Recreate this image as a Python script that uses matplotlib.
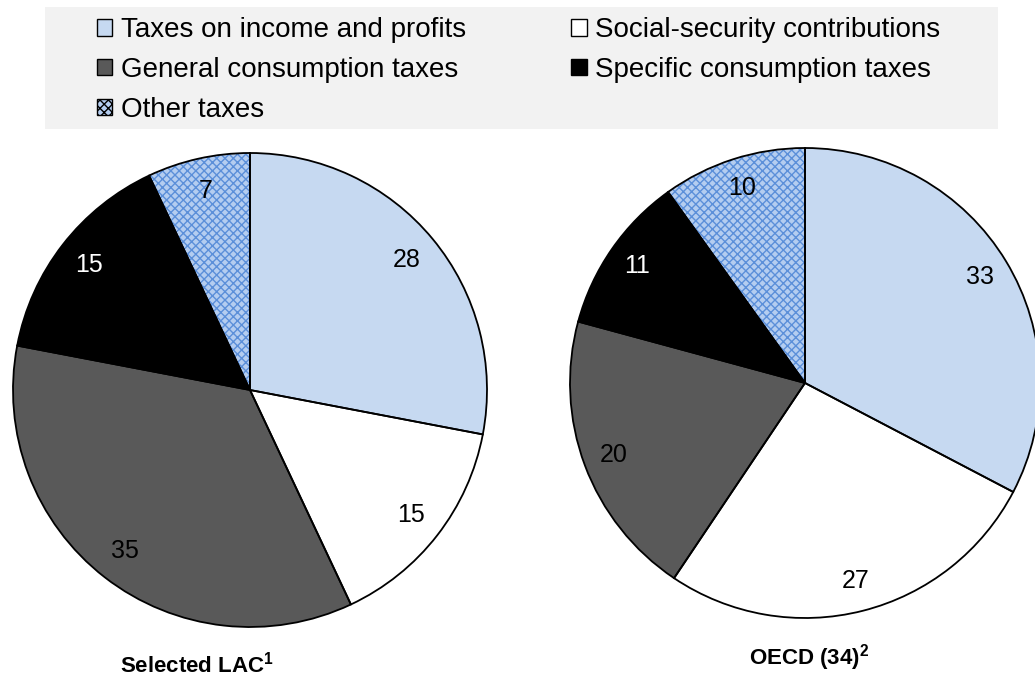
import matplotlib
matplotlib.use("Agg")
import matplotlib.pyplot as plt
from matplotlib.patches import Patch, Rectangle

plt.rcParams['font.family'] = ['Liberation Sans', 'DejaVu Sans']
plt.rcParams['mathtext.fontset'] = 'custom'
plt.rcParams['mathtext.rm'] = 'Liberation Sans'
plt.rcParams['mathtext.bf'] = 'Liberation Sans:bold'
plt.rcParams['hatch.linewidth'] = 1.0

# Datos
categorias = ["Taxes on income and profits", "Social-security contributions",
              "General consumption taxes", "Specific consumption taxes", "Other taxes"]
lac = [28, 15, 35, 15, 7]
oecd = [33, 27, 20, 11, 10]
titulos = [r"Selected LAC$^{\mathbf{1}}$", r"OECD (34)$^{\mathbf{2}}$"]

colores = ["#c6d9f1", "#ffffff", "#595959", "#000000", "#b4cdf0"]
color_texto = ["black", "black", "black", "white", "black"]
hatch_color = "#5b8fd9"

W, H = 1035, 682
fig = plt.figure(figsize=(W / 100, H / 100), dpi=100)

# fondo de la leyenda
fig.patches.append(Rectangle((45 / W, 1 - 129 / H), 953 / W, 122 / H,
                             transform=fig.transFigure, facecolor="#f2f2f2",
                             edgecolor="none", zorder=0))


def dibujar_pie(ax, valores, pct_dist):
    # relleno
    wedges, textos = ax.pie(valores, colors=colores, startangle=90, counterclock=False,
                            labels=[str(v) for v in valores], labeldistance=pct_dist,
                            wedgeprops=dict(linewidth=0),
                            textprops=dict(fontsize=18, ha="center", va="center"))
    for t, c in zip(textos, color_texto):
        t.set_color(c)
    wedges[-1].set_hatch("xxxx")
    wedges[-1].set_edgecolor(hatch_color)
    # bordes
    bordes, _ = ax.pie(valores, startangle=90, counterclock=False,
                       wedgeprops=dict(fill=False, edgecolor="black", linewidth=1.3))
    for t in textos:
        t.set_zorder(5)
    ax.set_xlim(-1, 1)
    ax.set_ylim(-1, 1)
    ax.set_aspect("equal")
    for p in wedges + bordes:
        p.set_clip_on(False)


ax1 = fig.add_axes([13 / W, 1 - 627 / H, 474 / W, 474 / H])
dibujar_pie(ax1, lac, 0.86)
ax2 = fig.add_axes([570 / W, 1 - 618 / H, 470 / W, 470 / H])
dibujar_pie(ax2, oecd, 0.87)

fig.text(197 / W, 1 - 665 / H, titulos[0], fontsize=16, fontweight="bold",
         ha="center", va="center")
fig.text(809 / W, 1 - 658 / H, titulos[1], fontsize=16, fontweight="bold",
         ha="center", va="center")

# leyenda (orden por filas como en el original)
handles = []
for c, h in zip(colores, [None, None, None, None, "xxxx"]):
    handles.append(Patch(facecolor=c, edgecolor="black", linewidth=1.0, hatch=h))
orden = [0, 2, 4, 1, 3]
leg = fig.legend([handles[i] for i in orden], [categorias[i] for i in orden],
                 ncol=2, loc="upper left", bbox_to_anchor=(97 / W, 1 - 17 / H),
                 frameon=False, fontsize=20, handlelength=0.55, handleheight=0.55,
                 handletextpad=0.3, columnspacing=3.8, labelspacing=0.5,
                 borderpad=0, borderaxespad=0)

fig.savefig("out.png", dpi=100)
